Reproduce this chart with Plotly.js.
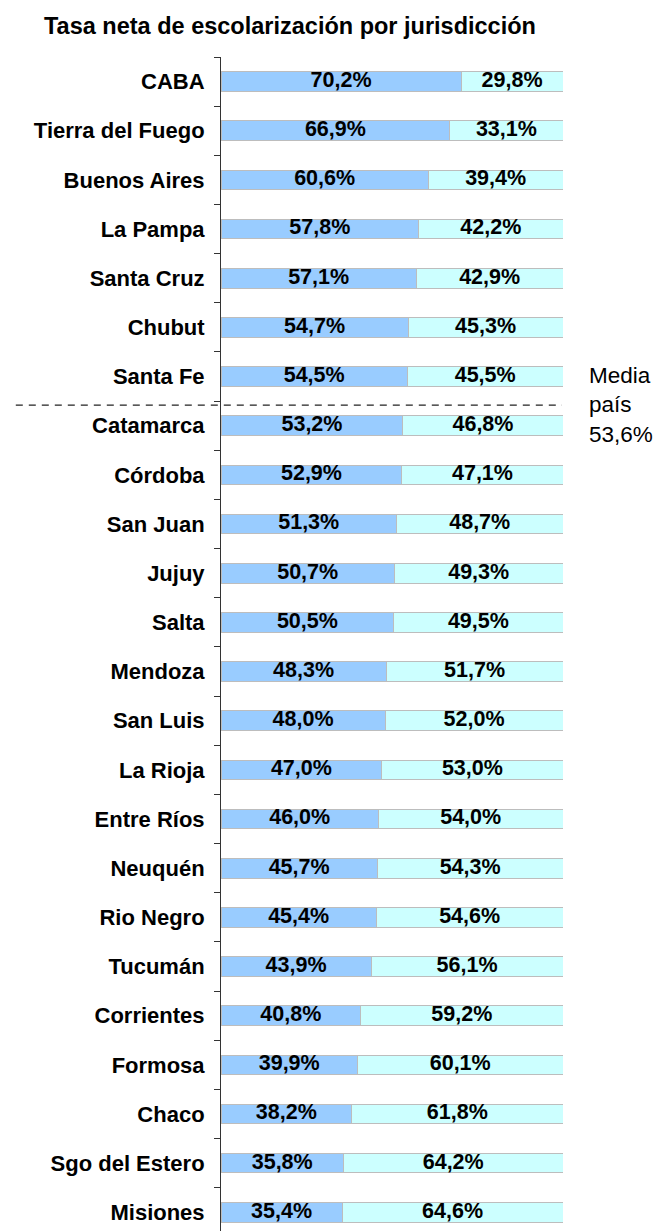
<!DOCTYPE html>
<html>
<head>
<meta charset="utf-8">
<script src="https://cdn.plot.ly/plotly-3.0.1.min.js"></script>
<style>
html,body{margin:0;padding:0;background:#fff;}
#chart{width:655px;height:1231px;}
</style>
</head>
<body>
<div id="chart"></div>
<script>
const jurisdicciones = ["CABA","Tierra del Fuego","Buenos Aires","La Pampa","Santa Cruz","Chubut","Santa Fe","Catamarca","Córdoba","San Juan","Jujuy","Salta","Mendoza","San Luis","La Rioja","Entre Ríos","Neuquén","Rio Negro","Tucumán","Corrientes","Formosa","Chaco","Sgo del Estero","Misiones"];
const tasaNeta = [70.2,66.9,60.6,57.8,57.1,54.7,54.5,53.2,52.9,51.3,50.7,50.5,48.3,48.0,47.0,46.0,45.7,45.4,43.9,40.8,39.9,38.2,35.8,35.4];
const resto = [29.8,33.1,39.4,42.2,42.9,45.3,45.5,46.8,47.1,48.7,49.3,49.5,51.7,52.0,53.0,54.0,54.3,54.6,56.1,59.2,60.1,61.8,64.2,64.6];
const mediaPais = 53.6;

const fmt = v => v.toFixed(1).replace('.', ',') + '%';
const FONT = 'Liberation Sans, Arial, sans-serif';

const traces = [
  {type:'bar', orientation:'h', y:jurisdicciones, x:tasaNeta,
   marker:{color:'#99ccff', line:{color:'#bdbdbd', width:1}}, hoverinfo:'skip', textposition:'none'},
  {type:'bar', orientation:'h', y:jurisdicciones, x:resto,
   marker:{color:'#ccffff', line:{color:'#bdbdbd', width:1}}, hoverinfo:'skip', textposition:'none'},
  {type:'scatter', mode:'text', y:jurisdicciones, x:tasaNeta.map(v=>v/2),
   text:tasaNeta.map(fmt), textposition:'middle center', cliponaxis:false,
   textfont:{family:FONT, size:21.5, weight:'bold', color:'#000'}, hoverinfo:'skip'},
  {type:'scatter', mode:'text', y:jurisdicciones, x:tasaNeta.map((v,i)=>v+resto[i]/2),
   text:resto.map(fmt), textposition:'middle center', cliponaxis:false,
   textfont:{family:FONT, size:21.5, weight:'bold', color:'#000'}, hoverinfo:'skip'}
];

// position of media between Santa Fe and Catamarca
const idxMedia = 6.58;

const layout = {
  width:655, height:1231,
  paper_bgcolor:'#fff', plot_bgcolor:'#fff',
  margin:{l:221, r:91.5, t:56.6, b:0, pad:0},
  barmode:'stack', bargap:0.6,
  showlegend:false,
  title:{text:'Tasa neta de escolarización por jurisdicción',
    font:{family:FONT, size:23.5, weight:'bold', color:'#000'},
    xref:'container', x:0.4427, xanchor:'center',
    yref:'container', y:1-25.5/1231, yanchor:'middle'},
  xaxis:{range:[0,100], visible:false, fixedrange:true},
  yaxis:{type:'category', categoryorder:'array', categoryarray:jurisdicciones,
    range:[23.38,-0.5], showline:true, linecolor:'#333', linewidth:1,
    ticks:'outside', ticklen:6, tickcolor:'#333', tickwidth:1, tickson:'boundaries',
    showgrid:false, zeroline:false, ticklabelstandoff:11,
    tickfont:{family:FONT, size:22, weight:'bold', color:'#000'}},
  shapes:[{type:'line', xref:'paper', yref:'y', x0:-0.6, x1:0.997, y0:idxMedia, y1:idxMedia,
    line:{color:'#222', width:1.3, dash:'7px,6px'}}],
  annotations:[{xref:'paper', yref:'y', x:1.07, y:idxMedia, xanchor:'left', yanchor:'middle',
    align:'left', showarrow:false, text:'Media<br>país<br>' + fmt(mediaPais),
    font:{family:FONT, size:22.5, color:'#000'}}]
};

Plotly.newPlot('chart', traces, layout, {staticPlot:true, displayModeBar:false});
</script>
</body>
</html>
